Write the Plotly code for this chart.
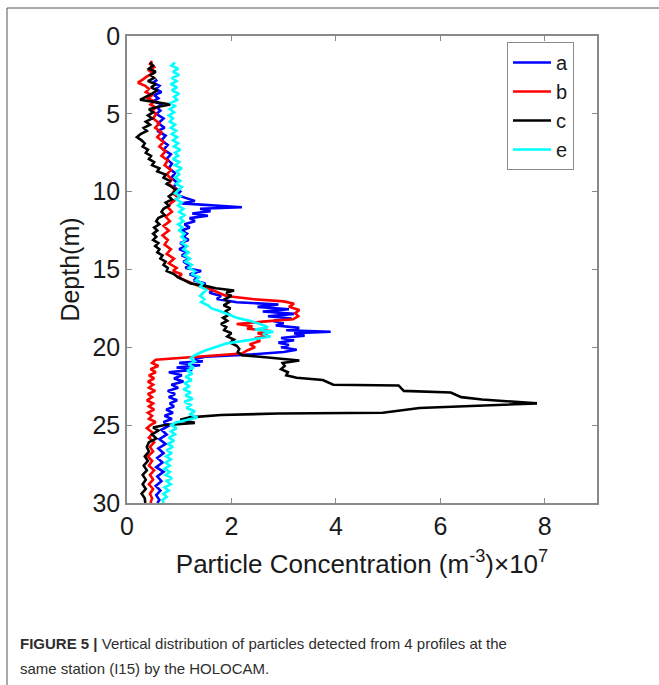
import plotly.graph_objects as go

# ---------------- data (depth in m, concentration in 1e7 m^-3) ----------------
depth_a = [2.8, 3.0, 3.2, 3.4, 3.6, 3.8, 4.0, 4.2, 4.4, 4.6, 4.8, 5.0, 5.3, 5.6, 5.9, 6.1, 6.4, 6.7, 7.0, 7.3,
           7.6, 7.9, 8.2, 8.5, 8.8, 9.1, 9.4, 9.7, 10.0, 10.2, 10.4, 10.6, 10.75, 10.9, 11.0, 11.1, 11.25, 11.4,
           11.55, 11.7, 11.9, 12.1, 12.3, 12.5, 12.7, 12.9, 13.1, 13.3, 13.5, 13.7, 13.9, 14.1, 14.3, 14.5, 14.7,
           14.9, 15.1, 15.3, 15.5, 15.7, 15.9, 16.1, 16.3, 16.5, 16.7, 16.9, 17.1, 17.25, 17.4, 17.55, 17.7, 17.85,
           18.0, 18.15, 18.3, 18.45, 18.6, 18.75, 18.9, 19.0, 19.1, 19.25, 19.4, 19.55, 19.7, 19.85, 20.0, 20.15,
           20.3, 20.45, 20.6, 20.75, 20.9, 21.0, 21.15, 21.3, 21.45, 21.6, 21.8, 22.0, 22.2, 22.4, 22.6, 22.8,
           23.0, 23.2, 23.4, 23.6, 23.8, 24.0, 24.2, 24.4, 24.6, 24.8, 25.0, 25.3, 25.6, 25.9, 26.2, 26.5, 26.8,
           27.1, 27.4, 27.7, 28.0, 28.3, 28.6, 28.9, 29.2, 29.5, 29.8, 30.0]
conc_a = [0.58, 0.50, 0.62, 0.55, 0.66, 0.52, 0.60, 0.50, 0.68, 0.58, 0.64, 0.56, 0.70, 0.60, 0.72, 0.58, 0.74, 0.66,
          0.78, 0.70, 0.84, 0.76, 0.86, 0.80, 0.92, 0.85, 0.95, 0.90, 1.02, 0.95, 1.12, 1.30, 1.05, 1.80, 2.20, 1.40,
          1.60, 1.25, 1.55, 1.20, 1.30, 1.10, 1.20, 1.05, 1.15, 1.08, 1.18, 1.02, 1.12, 1.00, 1.15, 1.05, 1.20, 1.08,
          1.18, 1.12, 1.42, 1.20, 1.35, 1.28, 1.50, 1.42, 1.65, 1.58, 1.80, 1.72, 2.10, 2.90, 2.50, 3.10, 2.60, 3.20,
          2.70, 3.15, 2.80, 3.00, 2.85, 3.30, 3.05, 3.90, 3.20, 3.40, 2.95, 3.20, 2.90, 3.10, 2.95, 3.25, 3.00, 2.40,
          1.50, 1.30, 1.45, 1.00, 1.40, 0.95, 1.25, 0.80, 1.05, 0.90, 1.08, 0.85, 0.98, 0.78, 0.92, 0.80, 0.96, 0.82,
          0.90, 0.75, 0.88, 0.72, 0.86, 0.70, 0.82, 0.66, 0.76, 0.62, 0.74, 0.60, 0.70, 0.58, 0.68, 0.56, 0.70, 0.58,
          0.66, 0.55, 0.64, 0.56, 0.62, 0.58]

depth_b = [1.6, 1.8, 2.0, 2.2, 2.4, 2.6, 2.8, 3.0, 3.2, 3.4, 3.6, 3.8, 4.0, 4.2, 4.4, 4.6, 4.8, 5.0, 5.3, 5.6, 5.9,
           6.2, 6.5, 6.8, 7.1, 7.4, 7.7, 8.0, 8.3, 8.6, 8.9, 9.2, 9.5, 9.8, 10.1, 10.4, 10.7, 11.0, 11.3, 11.6, 11.9,
           12.2, 12.5, 12.8, 13.1, 13.4, 13.7, 14.0, 14.3, 14.6, 14.9, 15.1, 15.3, 15.5, 15.7, 15.9, 16.1, 16.3,
           16.5, 16.7, 16.9, 17.05, 17.2, 17.4, 17.6, 17.8, 18.0, 18.2, 18.35, 18.5, 18.65, 18.8, 18.95, 19.1,
           19.25, 19.4, 19.6, 19.8, 20.0, 20.2, 20.4, 20.55, 20.7, 20.8, 21.0, 21.2, 21.4, 21.6, 21.8, 22.0, 22.2,
           22.4, 22.6, 22.8, 23.0, 23.2, 23.4, 23.6, 23.8, 24.0, 24.2, 24.4, 24.6, 24.8, 25.0, 25.2, 25.5, 25.8,
           26.1, 26.4, 26.7, 27.0, 27.3, 27.6, 27.9, 28.2, 28.5, 28.8, 29.1, 29.4, 29.7, 30.0]
conc_b = [0.48, 0.44, 0.52, 0.42, 0.50, 0.38, 0.30, 0.21, 0.35, 0.42, 0.36, 0.48, 0.40, 0.52, 0.45, 0.55, 0.48, 0.56,
          0.50, 0.62, 0.54, 0.66, 0.58, 0.70, 0.62, 0.74, 0.66, 0.78, 0.72, 0.84, 0.76, 0.86, 0.80, 0.92, 0.88, 0.98,
          0.85, 0.78, 0.86, 0.74, 0.82, 0.70, 0.80, 0.68, 0.78, 0.72, 0.84, 0.76, 0.90, 0.80, 0.95, 0.88, 1.05, 0.98,
          1.12, 1.25, 1.40, 1.62, 1.75, 1.90, 2.40, 3.00, 3.20, 3.10, 3.30, 3.22, 3.28, 3.18, 2.60, 2.10, 2.40, 2.30,
          2.75, 2.50, 2.70, 2.45, 2.55, 2.35, 2.45, 2.30, 2.20, 1.60, 1.10, 0.55, 0.48, 0.60, 0.45, 0.55, 0.42, 0.52,
          0.40, 0.50, 0.42, 0.54, 0.40, 0.48, 0.38, 0.50, 0.42, 0.52, 0.40, 0.48, 0.42, 0.55, 0.45, 0.38, 0.50, 0.42,
          0.52, 0.44, 0.50, 0.40, 0.48, 0.42, 0.52, 0.44, 0.50, 0.42, 0.50, 0.44, 0.48, 0.45]

depth_c = [1.7, 1.9, 2.1, 2.3, 2.5, 2.7, 2.9, 3.1, 3.3, 3.5, 3.7, 3.9, 4.1, 4.25, 4.4, 4.55, 4.7, 4.9, 5.1, 5.3,
           5.5, 5.7, 5.9, 6.1, 6.3, 6.5, 6.7, 6.9, 7.1, 7.3, 7.5, 7.7, 7.9, 8.1, 8.3, 8.5, 8.7, 8.9, 9.1, 9.3, 9.5,
           9.7, 9.9, 10.1, 10.3, 10.5, 10.7, 10.9, 11.1, 11.3, 11.5, 11.7, 11.9, 12.1, 12.3, 12.5, 12.7, 12.9, 13.1,
           13.3, 13.5, 13.7, 13.9, 14.1, 14.3, 14.5, 14.7, 14.9, 15.1, 15.3, 15.5, 15.7, 15.9, 16.05, 16.2, 16.35,
           16.5, 16.7, 16.9, 17.1, 17.3, 17.5, 17.7, 17.9, 18.1, 18.3, 18.5, 18.7, 18.9, 19.1, 19.3, 19.5, 19.7,
           19.9, 20.1, 20.3, 20.5, 20.65, 20.85, 21.0, 21.2, 21.4, 21.6, 21.8, 21.95, 22.1, 22.25, 22.4, 22.45,
           22.8, 22.9, 23.2, 23.35, 23.6, 23.9, 24.2, 24.25, 24.35, 24.5, 24.65, 24.85, 25.0, 25.15, 25.35, 25.6,
           25.85, 26.1, 26.4, 26.7, 27.0, 27.3, 27.6, 27.9, 28.2, 28.5, 28.8, 29.1, 29.4, 29.7, 30.0]
conc_c = [0.44, 0.50, 0.42, 0.55, 0.45, 0.52, 0.40, 0.55, 0.46, 0.58, 0.48, 0.35, 0.25, 0.55, 0.83, 0.60, 0.42, 0.50,
          0.40, 0.48, 0.36, 0.44, 0.32, 0.38, 0.26, 0.19, 0.28, 0.34, 0.30, 0.40, 0.36, 0.46, 0.42, 0.52, 0.48, 0.62,
          0.58, 0.74, 0.70, 0.82, 0.76, 0.86, 0.94, 0.88, 0.80, 0.86, 0.74, 0.80, 0.70, 0.66, 0.72, 0.60, 0.56, 0.62,
          0.52, 0.58, 0.50, 0.56, 0.50, 0.60, 0.54, 0.62, 0.58, 0.68, 0.64, 0.74, 0.70, 0.78, 0.76, 0.90, 0.98, 1.10,
          1.22, 1.50, 1.70, 2.05, 1.90, 2.00, 1.88, 1.95, 1.85, 1.98, 1.88, 1.96, 1.84, 1.92, 1.80, 1.90, 1.86, 2.00,
          1.92, 2.05, 1.98, 2.10, 2.15, 2.12, 2.20, 2.70, 3.30, 2.98, 3.02, 2.95, 3.08, 3.05, 3.25, 3.75, 3.85, 3.95,
          5.20, 5.30, 6.20, 6.40, 6.80, 7.85, 5.60, 4.90, 2.90, 1.80, 1.20, 1.02, 1.30, 0.70, 0.50, 0.60, 0.48, 0.56,
          0.42, 0.38, 0.42, 0.34, 0.40, 0.32, 0.38, 0.30, 0.36, 0.30, 0.36, 0.28, 0.34, 0.35]

depth_e = [1.7, 1.9, 2.1, 2.3, 2.5, 2.7, 2.9, 3.1, 3.3, 3.5, 3.7, 3.9, 4.1, 4.3, 4.5, 4.7, 4.9, 5.1, 5.3, 5.5, 5.7,
           5.9, 6.1, 6.3, 6.5, 6.7, 6.9, 7.1, 7.3, 7.5, 7.7, 7.9, 8.1, 8.3, 8.5, 8.7, 8.9, 9.1, 9.3, 9.5, 9.7, 9.9,
           10.1, 10.3, 10.5, 10.7, 10.9, 11.1, 11.3, 11.5, 11.7, 11.9, 12.1, 12.3, 12.5, 12.7, 12.9, 13.1, 13.3,
           13.5, 13.7, 13.9, 14.1, 14.3, 14.5, 14.7, 14.9, 15.1, 15.3, 15.5, 15.7, 15.9, 16.1, 16.3, 16.5, 16.7,
           16.9, 17.1, 17.3, 17.5, 17.7, 17.9, 18.1, 18.3, 18.5, 18.7, 18.85, 19.0, 19.15, 19.3, 19.45, 19.6,
           19.75, 19.9, 20.05, 20.2, 20.35, 20.5, 20.7, 20.9, 21.1, 21.3, 21.5, 21.7, 21.9, 22.1, 22.3, 22.5, 22.7,
           22.9, 23.1, 23.3, 23.5, 23.7, 23.9, 24.1, 24.3, 24.5, 24.7, 24.85, 25.0, 25.2, 25.4, 25.6, 25.8, 26.0,
           26.2, 26.4, 26.6, 26.8, 27.0, 27.2, 27.4, 27.6, 27.8, 28.0, 28.2, 28.4, 28.6, 28.8, 29.0, 29.2, 29.4,
           29.6, 29.8, 30.0]
conc_e = [0.92, 0.85, 0.98, 0.88, 1.00, 0.86, 0.95, 0.84, 0.96, 0.86, 1.00, 0.90, 0.96, 0.84, 0.92, 0.82, 0.90, 0.80,
          0.88, 0.82, 0.92, 0.84, 0.94, 0.86, 0.96, 0.88, 0.98, 0.90, 1.02, 0.92, 0.98, 0.88, 1.00, 0.92, 1.05, 0.95,
          1.00, 0.92, 1.02, 0.94, 1.05, 0.98, 0.92, 1.02, 0.94, 1.05, 0.98, 1.08, 1.00, 1.10, 1.02, 1.08, 0.98, 1.06,
          1.00, 1.10, 1.04, 1.12, 1.05, 1.15, 1.08, 1.18, 1.10, 1.20, 1.12, 1.24, 1.18, 1.30, 1.25, 1.38, 1.32, 1.45,
          1.40, 1.52, 1.46, 1.40, 1.48, 1.42, 1.55, 1.62, 1.80, 1.95, 2.10, 2.35, 2.55, 2.70, 2.45, 2.80, 2.60, 2.75,
          2.50, 2.20, 1.90, 1.75, 1.60, 1.50, 1.40, 1.30, 1.22, 1.30, 1.18, 1.28, 1.15, 1.25, 1.12, 1.24, 1.10, 1.20,
          1.08, 1.22, 1.12, 1.26, 1.10, 1.22, 1.14, 1.30, 1.20, 1.35, 1.10, 0.92, 0.85, 0.95, 0.84, 0.92, 0.80, 0.90,
          0.78, 0.88, 0.76, 0.86, 0.75, 0.84, 0.74, 0.82, 0.72, 0.82, 0.74, 0.86, 0.76, 0.84, 0.72, 0.80, 0.70, 0.76,
          0.68, 0.70]

series_names = ["a", "b", "c", "e"]
series_colors = ["#0000ff", "#ff0000", "#000000", "#00ffff"]
x_ticks = [0, 2, 4, 6, 8]
y_ticks = [0, 5, 10, 15, 20, 25, 30]

# ---------------- layout geometry (pixels) ----------------
W, H = 659, 685
L, R, T, B = 127, 62, 36, 182
PW, PH = W - L - R, H - T - B


def px(x):
    return (x - L) / PW


def py(y):
    return (H - B - y) / PH


fig = go.Figure()
for name, color, d, c in zip(series_names, series_colors,
                             [depth_a, depth_b, depth_c, depth_e],
                             [conc_a, conc_b, conc_c, conc_e]):
    fig.add_trace(go.Scatter(x=c, y=d, mode="lines", name=name,
                             line=dict(color=color, width=2.6)))

axis_common = dict(
    showline=True, linecolor="#8a8a8a", linewidth=1.5, mirror="ticks",
    ticks="inside", ticklen=5, tickwidth=1, tickcolor="#8a8a8a",
    showgrid=False, zeroline=False,
    tickfont=dict(family="Liberation Sans, Arial, sans-serif", size=25, color="#1a1a1a"),
)

fig.update_layout(
    width=W, height=H, autosize=False,
    margin=dict(l=L, r=R, t=T, b=B, pad=0),
    paper_bgcolor="white", plot_bgcolor="white",
    font=dict(family="Liberation Sans, Arial, sans-serif", color="#1a1a1a"),
    xaxis=dict(range=[0, 9], tickvals=x_ticks, ticktext=[str(v) for v in x_ticks],
               title=dict(text="Particle Concentration (m<sup>-3</sup>)×10<sup>7</sup>",
                          font=dict(size=26), standoff=16),
               **axis_common),
    yaxis=dict(range=[30, 0], tickvals=y_ticks, ticktext=[str(v) for v in y_ticks],
               title=dict(text="Depth(m)", font=dict(size=25), standoff=6),
               **axis_common),
    legend=dict(x=px(507), y=py(42), xanchor="left", yanchor="top",
                bgcolor="white", bordercolor="#8a8a8a", borderwidth=1,
                font=dict(size=20, color="#1a1a1a"), tracegroupgap=0,
                itemwidth=38),
    showlegend=True,
)

# outer figure frame
fig.add_shape(type="line", xref="paper", yref="paper",
              x0=px(7), x1=px(W + 5), y0=py(8), y1=py(8),
              line=dict(color="#555555", width=1))
fig.add_shape(type="line", xref="paper", yref="paper",
              x0=px(7), x1=px(7), y0=py(8), y1=py(H + 5),
              line=dict(color="#555555", width=1))

# caption
cap_font = dict(family="Liberation Sans Narrow, Liberation Sans, Arial, sans-serif", size=15, color="#2e2e2e")
fig.add_annotation(xref="paper", yref="paper", x=px(18), y=py(643), xanchor="left", yanchor="middle",
                   showarrow=False, font=cap_font,
                   text="<b>FIGURE 5 |</b> Vertical distribution of particles detected from 4 profiles at the")
fig.add_annotation(xref="paper", yref="paper", x=px(18), y=py(668), xanchor="left", yanchor="middle",
                   showarrow=False, font=cap_font,
                   text="same station (I15) by the HOLOCAM.")

fig.write_html("out.html")
